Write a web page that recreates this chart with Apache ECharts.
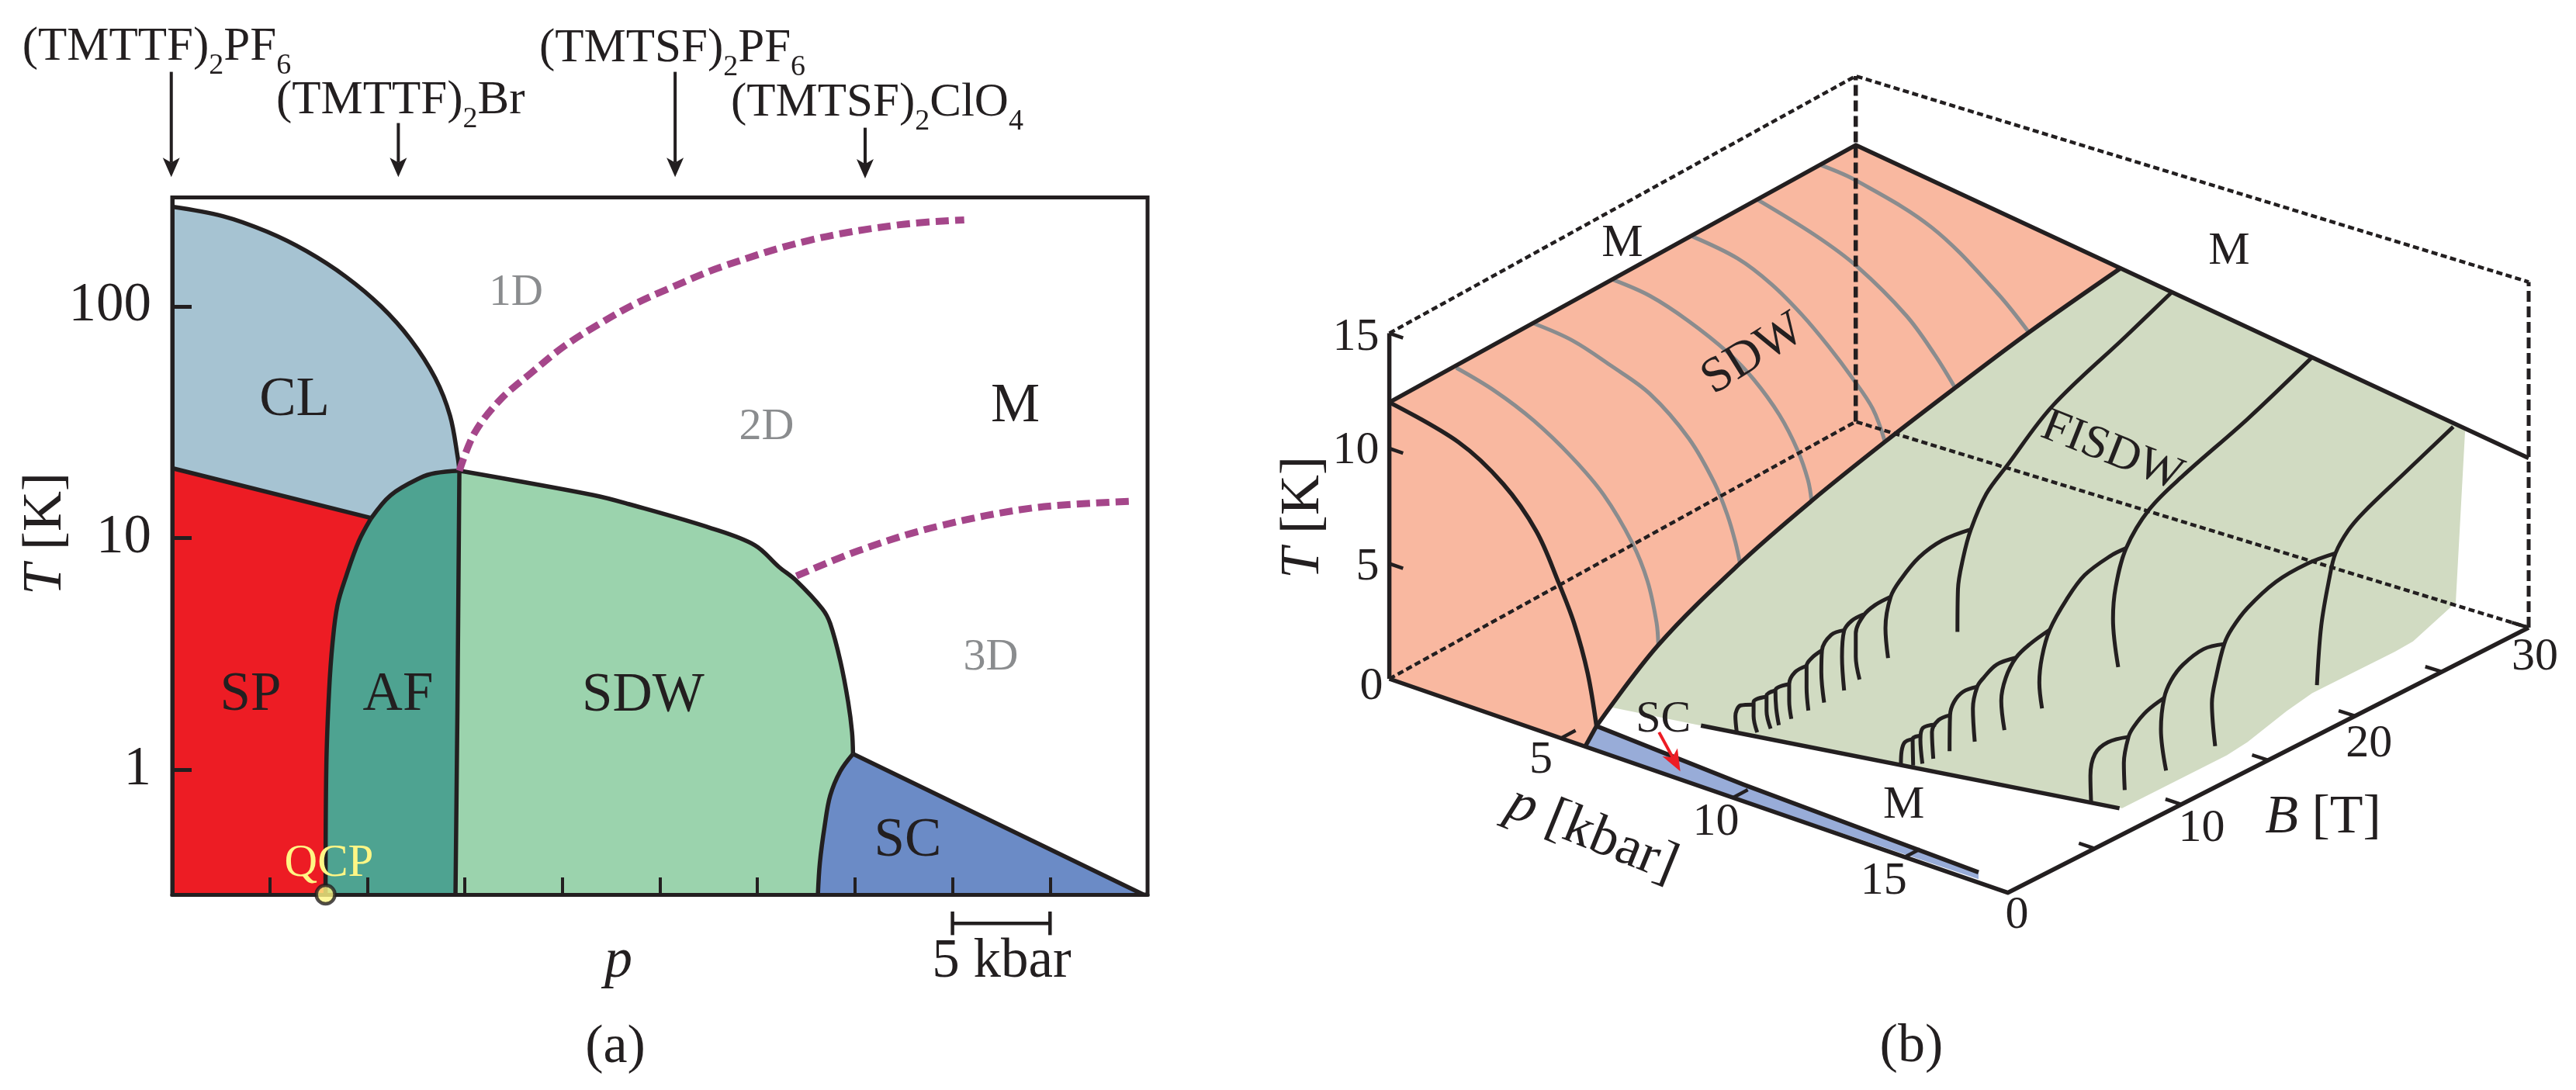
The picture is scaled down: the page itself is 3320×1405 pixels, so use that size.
<!DOCTYPE html>
<html><head><meta charset="utf-8">
<style>html,body{margin:0;padding:0;background:#fff}#c{width:3320px;height:1405px}</style>
<script src="https://cdn.jsdelivr.net/npm/echarts@6/dist/echarts.min.js"></script>
</head><body><div id="c"></div>
<script>
// ---------- Panel (a): p [kbar] / T [K] ----------
const yTicksA=[1,10,100];
const clP=[0,2.59,4.85,6.88,8.91,10.7,12.21,13.48,14.24,14.64,14.72];
const clT=[269,245,210,173,134,100,72,49,33.7,22.2,19.5];
const spLineP=[0,10.18];
const spLineT=[20,12.2];
const qcpLineP=[7.86,7.9,8.04,8.22,8.47,8.93,9.56,10.18];
const qcpLineT=[0.289,1.04,2.18,3.54,5.13,6.9,9.66,12.1];
const afTopP=[10.18,11.2,12.73,13.49,14.72];
const afTopT=[12.1,15.3,18.2,19.05,19.5];
const afSdwP=[14.72,14.62,14.52];
const afSdwT=[19.5,1.8,0.289];
const sdwTopP=[14.72,21.6,23.4,27.65,29.87,31.1,32,33.33,33.73,34.25,34.65,34.85,34.9];
const sdwTopT=[19.5,15.3,14,11,9.3,7.5,6.53,4.94,4.27,2.94,1.96,1.45,1.17];
const scLeftP=[34.9,34.25,33.73,33.45,33.2,33.1];
const scLeftT=[1.17,0.985,0.772,0.574,0.396,0.289];
const scRightP=[34.9,49.78];
const scRightT=[1.17,0.289];
const dash1P=[14.72,15.5,16.8,18.44,20.1,21.9,23.64,25.4,28.16,32.7,37.3,40.6];
const dash1T=[19.5,28.4,39.4,51.9,67.3,84,101.6,118.6,148,193,225,236];
const dash2P=[32,35.16,39.2,44.2,49.3];
const dash2T=[6.85,8.8,11.2,13.5,14.4];
const compoundP=[-0.05,11.59,25.78,35.52];
const compoundTailT=[1028,618,1028,590];
const compoundTipT=[361,361,361,356];
const qcpP=7.86, tMin=0.289, tMax=295;

// ---------- Panel (b): (p [kbar], B [T], T [K]) ----------
const tTicksB=[0,5,10,15];
const pTicksB=[5,10,15];
const bTicksB=[5,10,15,20,25,30];
const bLabelsB=[0,10,20,30];
// B = 0 phase line and the constant-B SDW lines
const sdw0P=[0,2.01,3.31,4.28,4.93,5.38,5.77,6.03];
const sdw0T=[12,11.31,10.17,8.61,6.71,5.18,3.24,1.06];
const gridLineB=[4.3,9.3,14.4,19.5,23.7,27.8];
const gridLineP=[
 [0,1.115,2.23,3.345,4.24,5.05,5.5,5.76,5.81],
 [0,1.09,2.19,3.29,4.39,5.12,5.49,5.71,5.84],
 [0,1.03,2.115,3.2,3.92,4.64,5.15,5.44,5.54],
 [0,1.25,2.18,3.03,3.75,4.39,4.96,5.30],
 [0,1.57,2.70,4.04,4.81,5.37],
 [0,0.95,2.97,4.71,5.58]];
const gridLineT=[
 [11.9,11.46,10.75,9.70,8.56,6.92,5.46,3.79,2.85],
 [11.96,11.78,11.24,10.58,9.21,7.64,6.41,5.37,4.53],
 [11.96,11.78,11.23,10.43,9.63,8.45,7.17,6.02,5.17],
 [11.94,11.61,10.96,10.04,9.05,8.03,6.97,5.7],
 [11.97,11.21,10.43,8.97,7.67,6.5],
 [11.94,11.74,10.72,8.78,7.47]];
// SDW / FISDW boundary
const bndP=[6.03,5.81,5.84,5.54,5.3,5.37,5.58,7.08];
const bndB=[0,4.3,9.3,14.4,19.5,23.7,27.8,30];
const bndT=[1.06,2.85,4.53,5.17,5.7,6.5,7.47,10.17];
// lower edge of the FISDW sheet at p = 18
const edgeB=[25.8,24.68,23.34,22.3,19.02,17.53,16.05,13.81,12.62,6.59];
const edgeT=[2.7,2.36,1.96,1.91,1.93,1.94,1.72,1.24,1.13,1.14];
// SC sliver in the B = 0 plane
const scP=[6.03,10.3,17.15];
const scT=[1.06,0.73,0.45];
// FISDW cascades at fixed p: [B list, T list] for each line
const cascade1p=8.45;
const cascade1=[
 [[30.04,27.22,22.73,19.97,18.7,17.76,17.28,16.97,16.94],[9.82,8.96,7.62,6.08,5.33,4.14,3.06,1.83,0]],
 [[17.76,16.02,14.6,13.5,12.87,12.55,12.71],[4.14,4.32,4.12,3.59,3.06,1.82,0.46]],
 [[12.87,11.92,11.21,10.74,10.74,10.97],[3.06,3.06,2.87,2.27,1.26,0.19]],
 [[11.21,10.5,10.03,9.9,10.03],[2.92,2.92,2.66,1.57,0.07]],
 [[10.03,9.24,8.68,8.64,8.81],[2.68,2.78,2.32,1.38,0]],
 [[8.68,8.05,7.74,7.74,7.85],[2.32,2.22,2.0,1.05,0.02]],
 [[7.74,7.03,6.68,6.68,6.81],[2.0,1.99,1.61,0.88,0.05]],
 [[6.68,5.84,5.89,6.05],[1.61,1.65,0.85,0.06]],
 [[5.84,5.3,5.3,5.55],[1.65,1.63,0.96,0.1]],
 [[5.3,4.51,4.51,4.73],[1.58,1.65,1.04,0.25]],
 [[4.51,3.72,3.4,3.48],[1.54,1.8,1.45,0.75]]];
const cascade2p=12.2;
const cascade2=[
 [[30.02,26.17,22.32,20.31,18.93,18.31,18.15,18.46],[8.85,7.63,6.63,5.93,4.77,3.32,2.0,-0.21]],
 [[18.93,18.0,16.46,15.38,14.38,13.92,13.76,13.92],[4.77,4.79,4.54,3.89,2.96,1.96,0.9,-0.28]],
 [[14.38,13.22,12.37,11.76,11.49,11.68],[2.96,2.79,2.51,1.87,0.98,-0.37]],
 [[12.37,11.22,10.45,10.06,9.8,9.91],[2.51,2.65,2.38,2.13,1.28,-0.2]],
 [[10.06,9.21,8.67,8.44,8.41],[2.13,2.23,1.99,1.51,-0.04]],
 [[8.44,7.75,7.36,7.44],[1.51,1.56,1.19,0]],
 [[7.6,6.82,6.67,6.79],[1.42,1.57,1.12,0.03]],
 [[6.75,6.21,6.24],[1.26,1.32,0.16]],
 [[6.21,5.74,5.55,5.51],[1.32,1.36,1.04,0.49]]];
const cascade3p=16;
const cascade3=[
 [[29.96,27.02,24.76,23.86,23.1,22.73,22.27,22.02],[7.74,6.78,6.03,5.59,4.87,3.88,2.04,-0.44]],
 [[23.1,21.44,19.63,17.98,17.07,16.62,16.17,15.9,16.09],[4.87,5.05,4.96,4.46,3.91,3.41,2.24,1.11,-0.82]],
 [[16.62,15.42,14.21,13.53,13.12,12.93,13.23],[3.41,3.65,3.43,3.02,2.41,1.12,-0.79]],
 [[13.12,12.1,11.35,11.04,10.77,10.82],[2.41,2.22,1.84,1.51,0.48,-0.71]],
 [[11.04,9.84,9.09,8.82,8.86],[1.51,1.74,1.52,0.67,-0.47]]];

// ---------- drawing helpers ----------
const INK='#231f20', GREY='#8a8c8e', SERIF='"Liberation Serif","Times New Roman",serif';
// oblique view of the (p,B,T) box onto the page plane of the hidden second axes
const corners={a:[1790.6,875],c:[2587.6,1150.7],d:[3259,809],e:[2391.7,543.5]}, kelvin=29.7;
function project(p,B,T){
  const u=p/18,v=B/30,w=(i)=>(1-u)*(1-v)*corners.a[i]+u*(1-v)*corners.c[i]+u*v*corners.d[i]+(1-u)*v*corners.e[i];
  return [w(0),w(1)-T*kelvin];
}
const zip=(a,b)=>a.map((v,i)=>[v,b[i]]);
const atB=(B,ps,Ts)=>ps.map((p,i)=>project(p,B,Ts[i]));
const atP=(p,Bs,Ts)=>Bs.map((B,i)=>project(p,B,Ts[i]));
function curve(g,data,o={}){
  return {type:'line',xAxisIndex:g,yAxisIndex:g,data,symbol:'none',clip:false,silent:true,animation:false,
    smooth:o.smooth===undefined?0.35:o.smooth,z:o.z||6,
    lineStyle:{color:o.color||INK,width:o.width||5.5,type:o.dash||'solid',join:'round'}};
}
function poly(g,pts,color,z){
  return {type:'custom',xAxisIndex:g,yAxisIndex:g,data:pts,encode:{x:0,y:1},silent:true,animation:false,z:z||2,
    renderItem(params,api){
      if(params.dataIndex!==0) return;
      return {type:'polygon',shape:{points:pts.map(p=>api.coord(p))},style:{fill:color}};
    }};
}
function segs(g,rows,color,width,z){
  return {type:'custom',xAxisIndex:g,yAxisIndex:g,data:rows,encode:{x:[0,2],y:[1,3]},silent:true,animation:false,z:z||7,
    renderItem(params,api){
      const a=api.coord([api.value(0),api.value(1)]),b=api.coord([api.value(2),api.value(3)]);
      return {type:'line',shape:{x1:a[0],y1:a[1],x2:b[0],y2:b[1]},style:{stroke:color,lineWidth:width}};
    }};
}
function arrows(g,rows,color,width,len,half,z){
  return {type:'custom',xAxisIndex:g,yAxisIndex:g,data:rows,encode:{x:[0,2],y:[1,3]},silent:true,animation:false,z:z||9,
    renderItem(params,api){
      const a=api.coord([api.value(0),api.value(1)]),b=api.coord([api.value(2),api.value(3)]);
      const L=Math.hypot(b[0]-a[0],b[1]-a[1]),ux=(b[0]-a[0])/L,uy=(b[1]-a[1])/L,nx=-uy,ny=ux;
      const back=(d,s)=>[b[0]-ux*d+nx*s,b[1]-uy*d+ny*s];
      const neck=back(len*0.75,0);
      return {type:'group',children:[
        {type:'line',shape:{x1:a[0],y1:a[1],x2:neck[0],y2:neck[1]},style:{stroke:color,lineWidth:width}},
        {type:'polygon',shape:{points:[b,back(len,half),neck,back(len,-half)]},style:{fill:color}}]};
    }};
}
function tickText(rows){ // [p,B,T,text,dx,dy,align]
  return {type:'custom',xAxisIndex:1,yAxisIndex:1,data:rows.map(r=>[project(r[0],r[1],r[2])[0],project(r[0],r[1],r[2])[1]]),
    encode:{x:0,y:1},silent:true,animation:false,z:20,
    renderItem(params,api){
      const r=rows[params.dataIndex],c=api.coord([api.value(0),api.value(1)]);
      return {type:'text',x:c[0]+r[4],y:c[1]+r[5],style:{text:String(r[3]),font:`60px ${SERIF}`,fill:INK,align:r[6]||'center',verticalAlign:'middle',textAlign:r[6]||'center',textVerticalAlign:'middle'}};
    }};
}
function txt(text,x,y,size,o={}){
  const style={text,font:`${size}px ${SERIF}`,fill:o.color||INK,align:o.align||'center',verticalAlign:'middle',textAlign:o.align||'center',textVerticalAlign:'middle'};
  if(o.rich) style.rich=o.rich;
  return {type:'text',x,y,z:50,silent:true,rotation:(o.rot||0)*Math.PI/180,style};
}
const formulaRich={a:{font:`61px ${SERIF}`,fill:INK,color:INK},s:{font:`38px ${SERIF}`,fill:INK,color:INK,padding:[48,0,0,0]}};
const unitRich=(size)=>({i:{font:`italic ${size}px ${SERIF}`,color:INK},r:{font:`${size}px ${SERIF}`,color:INK}});

// ---------- series ----------
const A=0,B=1;
const boundary=bndP.map((p,i)=>project(p,bndB[i],bndT[i]));
const series=[
  poly(A,[...zip(clP,clT),...zip(afTopP,afTopT).reverse(),[0,20]],'#a6c3d2'),
  poly(A,[[0,20],[10.18,12.2],...zip(qcpLineP,qcpLineT).reverse(),[0,tMin]],'#ed1c24'),
  poly(A,[...zip(qcpLineP,qcpLineT),...zip(afTopP,afTopT),[14.52,tMin]],'#4ea391'),
  poly(A,[...zip(sdwTopP,sdwTopT),...zip(scLeftP,scLeftT).slice(1),[14.52,tMin]],'#9bd3ad'),
  poly(A,[...zip(scLeftP,scLeftT),[49.78,tMin]],'#6b8bc6'),
  curve(A,zip(clP,clT)),
  curve(A,zip(spLineP,spLineT),{smooth:false}),
  curve(A,zip(qcpLineP,qcpLineT)),
  curve(A,zip(afTopP,afTopT)),
  curve(A,zip(afSdwP,afSdwT),{smooth:false}),
  curve(A,zip(sdwTopP,sdwTopT)),
  curve(A,zip(scLeftP,scLeftT)),
  curve(A,zip(scRightP,scRightT),{smooth:false}),
  curve(A,zip(dash1P,dash1T),{color:'#a5468a',width:9,dash:[17,8],z:8}),
  curve(A,zip(dash2P,dash2T),{color:'#a5468a',width:9,dash:[17,8],z:8}),
  arrows(A,compoundP.map((p,i)=>[p,compoundTailT[i],p,compoundTipT[i]]),INK,4,25,11),
  segs(A,[[40,0.217,45,0.217],[40,0.244,40,0.193],[45,0.244,45,0.193]],INK,4.5),
  {type:'scatter',xAxisIndex:A,yAxisIndex:A,data:[[qcpP,tMin]],symbol:'circle',symbolSize:24,clip:false,silent:true,animation:false,z:30,
    itemStyle:{color:'#fff685',borderColor:INK,borderWidth:4.5}},

  // panel (b) fills
  poly(B,[project(0,0,0),project(0,0,12),project(0,30,12),...[...boundary].reverse(),project(5.7,0,0)],'#f9b8a0'),
  poly(B,[...boundary,project(16.3,30,7.71),...atP(18,edgeB,edgeT),project(7.05,4.27,0),project(4.9,3.41,0)],'#d1dbc2'),
  poly(B,[project(5.7,0,0),...atB(0,scP,scT),project(17.15,0,0.15)],'#98acd8'),
  // grey constant-B lines
  ...gridLineB.map((b,i)=>curve(B,atB(b,gridLineP[i],gridLineT[i]),{color:GREY,width:5,z:3})),
  // box
  curve(B,[project(0,0,15),project(0,30,15),project(18,30,15)],{smooth:false,width:4.5,dash:[8,4.5],z:4}),
  curve(B,[project(0,30,0),project(0,30,15)],{smooth:false,width:5.5,dash:[14,6],z:4}),
  curve(B,[project(18,30,0),project(18,30,15)],{smooth:false,width:5,dash:[14,6],z:4}),
  curve(B,[project(0,0,0),project(0,30,0),project(18,30,0)],{smooth:false,width:4.5,dash:[8,4.5],z:4}),
  curve(B,[project(0,0,0),project(0,0,15)],{smooth:false}),
  curve(B,[project(0,0,0),project(18,0,0),project(18,30,0)],{smooth:false}),
  // phase lines
  curve(B,atB(0,sdw0P,sdw0T)),
  curve(B,[project(0,0,12),project(0,30,12),project(18,30,7.36)],{smooth:false}),
  curve(B,boundary),
  curve(B,[project(6.03,0,1.06),project(5.7,0,0)],{smooth:false}),
  curve(B,atB(0,scP,scT),{smooth:false}),
  curve(B,[project(7.05,4.27,0),project(17.07,8.32,0)],{smooth:false}),
  ...cascade1.map(c=>curve(B,atP(cascade1p,c[0],c[1]),{width:5})),
  ...cascade2.map(c=>curve(B,atP(cascade2p,c[0],c[1]),{width:5})),
  ...cascade3.map(c=>curve(B,atP(cascade3p,c[0],c[1]),{width:5})),
  // ticks
  segs(B,[...tTicksB.slice(1).map(t=>[...project(0,0,t),...project(0.4,0,t)]),
          ...pTicksB.map(p=>[...project(p,0,0),...project(p,0.9,0)]),
          ...bTicksB.map(b=>[...project(18,b,0),...project(17.55,b,0)])],INK,4.5),
  arrows(B,[[...project(7.85,0,1.73),...project(8.47,0,0.35)]],'#ed1c24',4,28,11),
  tickText([[0,0,0,tTicksB[0],-8,10,'right'],[0,0,5,tTicksB[1],-13,5,'right'],[0,0,10,tTicksB[2],-13,3,'right'],[0,0,15,tTicksB[3],-13,6,'right'],
    [5,0,0,pTicksB[0],-26,29],[10,0,0,pTicksB[1],-22,32],[15,0,0,pTicksB[2],-27,31],
    [18,0,0,bLabelsB[0],12,30],[18,10,0,bLabelsB[1],26,31],[18,20,0,bLabelsB[2],18,36],[18,30,0,bLabelsB[3],8,38]])
];

// ---------- labels ----------
const graphicText=[
  txt('{a|(TMTTF)}{s|2}{a|PF}{s|6}',28.7,61,61,{align:'left',rich:formulaRich}),
  txt('{a|(TMTTF)}{s|2}{a|Br}',356,130,61,{align:'left',rich:formulaRich}),
  txt('{a|(TMTSF)}{s|2}{a|PF}{s|6}',695,63,61,{align:'left',rich:formulaRich}),
  txt('{a|(TMTSF)}{s|2}{a|ClO}{s|4}',942,133,61,{align:'left',rich:formulaRich}),
  txt('CL',379.5,516,71),
  txt('1D',665,378,57,{color:GREY}),
  txt('2D',988,551,58,{color:GREY}),
  txt('3D',1277,848,58,{color:GREY}),
  txt('M',1308.5,524,71),
  txt('SP',323,896,71),
  txt('AF',513,896,71),
  txt('SDW',829,897,71),
  txt('SC',1170,1084,71),
  txt('QCP',424,1113,59,{color:'#fff685'}),
  txt('{i|p}',797,1240,70,{rich:unitRich(72)}),
  txt('5 kbar',1291,1240,71),
  txt('(a)',793,1351,70),
  txt('{i|T} {r|[K]}',59,688,72,{rot:90,rich:unitRich(72)}),
  txt('{i|T} {r|[K]}',1680,667,72,{rot:90,rich:unitRich(72)}),
  txt('M',2091,314,60),
  txt('M',2873,324,60),
  txt('M',2453.7,1038,60),
  txt('SDW',2259.7,457,64,{rot:32}),
  txt('FISDW',2722,582,61,{rot:-21.6}),
  txt('SC',2143.7,928,58),
  txt('{i|p} {r|[kbar]}',2052,1076,72,{rot:-22,rich:unitRich(72)}),
  txt('{i|B} {r|[T]}',2994,1054.4,70,{rich:unitRich(70)}),
  txt('(b)',2463.4,1350,70)
];

const chart=echarts.init(document.getElementById('c'),null,{renderer:'canvas'});
chart.setOption({
  animation:false,backgroundColor:'#ffffff',
  grid:[{left:222,top:254.5,width:1257,height:898.5,show:true,borderColor:INK,borderWidth:5,backgroundColor:'transparent'},
        {left:0,top:0,width:3320,height:1405,show:false}],
  xAxis:[{gridIndex:0,type:'value',min:0,max:50,interval:5,z:10,splitLine:{show:false},
          axisLine:{show:true,lineStyle:{color:INK,width:5}},
          axisTick:{show:true,inside:true,length:22,lineStyle:{color:INK,width:4}},axisLabel:{show:false}},
         {gridIndex:1,type:'value',min:0,max:3320,show:false,splitLine:{show:false}}],
  yAxis:[{gridIndex:0,type:'log',logBase:10,min:tMin,max:tMax,z:10,splitLine:{show:false},minorTick:{show:false},
          axisLine:{show:true,lineStyle:{color:INK,width:5}},
          axisTick:{show:true,inside:true,length:25,customValues:yTicksA,lineStyle:{color:INK,width:5}},
          axisLabel:{show:true,customValues:yTicksA,margin:27,padding:[10,0,0,0],fontFamily:SERIF,fontSize:71,color:INK,showMinLabel:true,showMaxLabel:true}},
         {gridIndex:1,type:'value',min:0,max:1405,inverse:true,show:false,splitLine:{show:false}}],
  series,
  graphic:{elements:graphicText}
});
</script></body></html>
